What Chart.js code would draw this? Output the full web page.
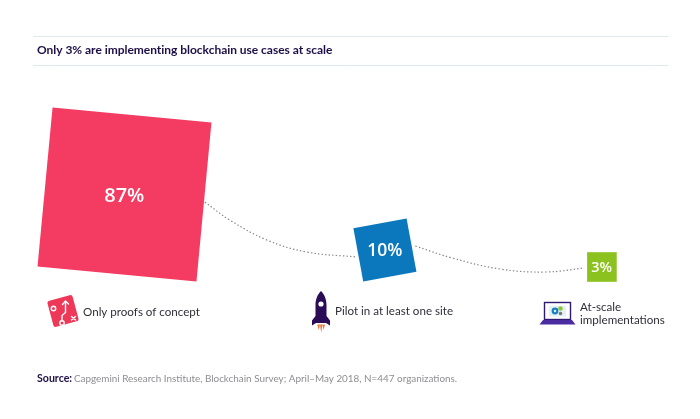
<!DOCTYPE html>
<html><head><meta charset="utf-8">
<style>html,body{margin:0;padding:0;background:#fff}canvas{display:block}</style>
<script src="https://cdn.jsdelivr.net/npm/chart.js@4/dist/chart.umd.min.js"></script>
</head><body><canvas id="c" width="700" height="419"></canvas>
<script>
// Data
const chartTitle = 'Only 3% are implementing blockchain use cases at scale';
const stages = [['Only proofs of concept'], ['Pilot in at least one site'], ['At-scale', 'implementations']];
const shares = [87, 10, 3];
const sourceLead = 'Source:';
const sourceText = 'Capgemini Research Institute, Blockchain Survey; April–May 2018, N=447 organizations.';
// Placement along hidden axes (axis units, not pixels)
const stageAlong = [0, 1.2, 2.2];
const stageLevel = [22.45, 16.9, 15.2];
const tiltDeg = [5.4, -10.5, 0];
const linkAX = [0.37, 0.485, 0.656, 0.84, 1.07];
const linkAY = [21.7, 19.9, 17.9, 16.7, 16.2];
const linkBX = [1.34, 1.51, 1.73, 1.94, 2.12];
const linkBY = [17.3, 16.1, 15.0, 14.7, 15.1];

const FONT = 'Lato';
const AREA_K = 12.1; // point radius per sqrt(percent): square area encodes share
const toXY = (xs, ys) => xs.map((x, i) => ({x, y: ys[i]}));
const linkStyle = {type:'scatter', showLine:true, tension:0.4, pointRadius:0, borderColor:'#85858a', borderWidth:1.2, borderDash:[1.4,2.2], order:2};

function text(ctx, s, x, y, font, color, spacing, align){
  ctx.font = font; ctx.fillStyle = color; ctx.textAlign = align || 'left';
  ctx.textBaseline = 'alphabetic'; ctx.letterSpacing = (spacing||0) + 'px';
  ctx.fillText(s, x, y); ctx.letterSpacing = '0px';
}
const decor = {
  id:'decor',
  beforeDatasetsDraw(chart){
    const ctx = chart.ctx; ctx.save();
    ctx.strokeStyle = '#dcebee'; ctx.lineWidth = 1;
    [36.5, 65.5].forEach(y => {ctx.beginPath(); ctx.moveTo(33,y); ctx.lineTo(668,y); ctx.stroke();});
    text(ctx, chartTitle, 37, 54, '700 12px '+FONT, '#1e0f46', -0.03);
    // icon: proof of concept
    ctx.save(); ctx.translate(63,311); ctx.rotate(-15*Math.PI/180);
    ctx.fillStyle = '#ee3858'; ctx.beginPath(); ctx.roundRect(-13,-13.5,26,27,2.5); ctx.fill(); ctx.restore();
    ctx.strokeStyle = '#fff'; ctx.lineWidth = 1.4; ctx.lineCap = 'round';
    ctx.stroke(new Path2D('M62 320.5V315.5L65.5 312.5V301.5M62.5 304.5L65.5 301L68.5 304M71.5 316.5L75.5 320M75.5 316.5L71.5 320'));
    ctx.beginPath(); ctx.arc(53.5,308.5,2.2,0,7); ctx.stroke();
    ctx.beginPath(); ctx.arc(62,323,2.2,0,7); ctx.stroke();
    // icon: rocket
    ctx.fillStyle = '#2b0d57';
    ctx.fill(new Path2D('M321 291C325 295 326.5 300 326.5 305L326.5 316L330 320.5L330 325.5L326 323L316 323L312 325.5L312 320.5L315.5 316L315.5 305C315.5 300 317 295 321 291Z'));
    ctx.fillStyle = '#fff'; ctx.beginPath(); ctx.arc(321,304,2.6,0,7); ctx.fill();
    ctx.fillStyle = '#f0783a';
    ctx.fill(new Path2D('M317.2 324.5H320L318.8 330ZM320 324.5H322.4L321.2 333ZM322.4 324.5H325L323.6 330Z'));
    // icon: laptop
    ctx.strokeStyle = '#2e1a70'; ctx.lineWidth = 1.4;
    ctx.strokeRect(544.5,302.5,26,17);
    ctx.fillStyle = '#e4f0f4'; ctx.fillRect(549,306,17,10.5);
    ctx.fillStyle = '#1a7fc0'; ctx.beginPath(); ctx.arc(555,311,3.4,0,7); ctx.fill();
    ctx.fillStyle = '#e4f0f4'; ctx.beginPath(); ctx.arc(555,311,1.2,0,7); ctx.fill();
    ctx.fillStyle = '#8cc63f'; ctx.beginPath(); ctx.arc(560.5,308.5,2.3,0,7); ctx.fill();
    ctx.fillStyle = '#777'; ctx.beginPath(); ctx.arc(560.5,313.5,1.8,0,7); ctx.fill();
    ctx.fillStyle = '#4a2ba0';
    ctx.fill(new Path2D('M543 320H572L575.5 324.5H539.5Z'));
    ctx.restore();
  },
  afterDatasetsDraw(chart){
    const ctx = chart.ctx; ctx.save();
    const pts = chart.getDatasetMeta(0).data;
    const sizes = [20, 17.5, 14.5];
    shares.forEach((v,i) => text(ctx, v+'%', pts[i].x-0.2, pts[i].y+sizes[i]*0.36, '600 '+sizes[i]+'px "Open Sans"', '#fff', 0, 'center'));
    const ink = '#2f2f3a', f = '11.6px '+FONT;
    text(ctx, stages[0][0], 83, 316, f, ink, 0);
    text(ctx, stages[1][0], 335, 314.5, f, ink, 0);
    text(ctx, stages[2][0], 580, 310.5, f, ink, 0);
    text(ctx, stages[2][1], 580, 323.5, f, ink, 0);
    text(ctx, sourceLead, 37, 382, '700 10.6px '+FONT, '#1e0f46', 0);
    text(ctx, sourceText, 74, 382, '9.9px '+FONT, '#8d8d92', 0);
    ctx.restore();
  }
};
new Chart(document.getElementById('c'), {
  type:'scatter',
  data:{datasets:[
    {label:'Share of organizations', data:toXY(stageAlong, stageLevel), order:1, pointStyle:'rect', borderWidth:0,
     backgroundColor:['#f43b62','#0b78bd','#8cc220'],
     rotation:c => tiltDeg[c.dataIndex],
     radius:c => AREA_K*Math.sqrt(shares[c.dataIndex])},
    {label:'link1', data:toXY(linkAX, linkAY), ...linkStyle},
    {label:'link2', data:toXY(linkBX, linkBY), ...linkStyle}
  ]},
  options:{
    responsive:false, animation:false, devicePixelRatio:1,
    layout:{padding:0, autoPadding:false},
    events:[],
    plugins:{legend:{display:false}, tooltip:{enabled:false}},
    scales:{
      x:{type:'linear', display:false, min:-0.5737, max:2.652},
      y:{type:'linear', display:false, min:0, max:41.9}
    }
  },
  plugins:[decor]
});
</script></body></html>
